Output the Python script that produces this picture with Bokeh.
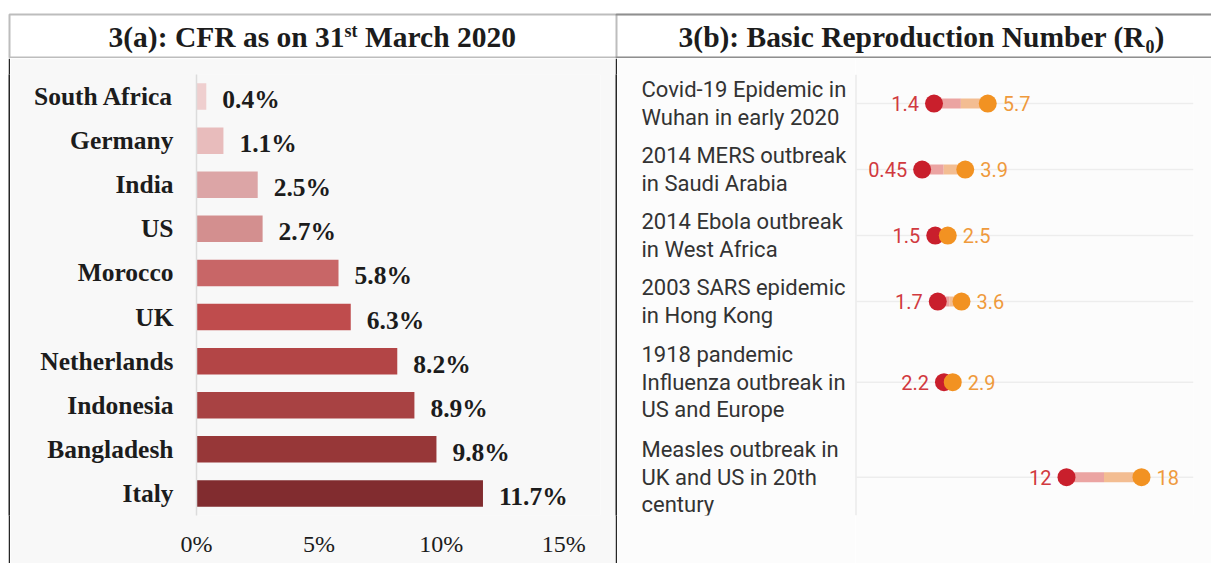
from bokeh.plotting import figure
from bokeh.models import Range1d, FactorRange, FixedTicker, PrintfTickFormatter, BoxAnnotation, Label, Span
from bokeh.layouts import column, row
from bokeh.embed import file_html
from bokeh.resources import INLINE
from bokeh.core.properties import value

# ---------------- data ----------------
countries = ["South Africa", "Germany", "India", "US", "Morocco", "UK",
             "Netherlands", "Indonesia", "Bangladesh", "Italy"]
cfr = [0.4, 1.1, 2.5, 2.7, 5.8, 6.3, 8.2, 8.9, 9.8, 11.7]
bar_colors = ["#efcfcf", "#e8bcbc", "#dca5a6", "#d38f8f", "#c86667",
              "#bf4c4d", "#b34546", "#a84243", "#973738", "#812c2f"]
cfr_ticks = [0, 5, 10, 15]

outbreaks = ["Covid-19 Epidemic in\nWuhan in early 2020",
             "2014 MERS outbreak\nin Saudi Arabia",
             "2014 Ebola outbreak\nin West Africa",
             "2003 SARS epidemic\nin Hong Kong",
             "1918 pandemic\nInfluenza outbreak in\nUS and Europe",
             "Measles outbreak in\nUK and US in 20th\ncentury"]
r0_low = [1.4, 0.45, 1.5, 1.7, 2.2, 12]
r0_high = [5.7, 3.9, 2.5, 3.6, 2.9, 18]

title_a = ["3(a): CFR as on 31", "st", " March 2020"]
title_b = ["3(b): Basic Reproduction Number (R", "0", ")"]

# ---------------- styling ----------------
SERIF = "Liberation Serif"
SANS = "Roboto"
INK = "#1c1c1c"
RULE = "#262626"
W, HH, H = 1211, 58, 505

# Times/Liberation Serif Bold advance widths (1/1000 em) for the header text
BOLD = {"0": 500, "1": 500, "2": 500, "3": 500, "(": 333, ")": 333, ":": 333, " ": 250,
        "a": 500, "b": 556, "c": 444, "d": 556, "e": 444, "h": 556, "i": 278, "m": 833,
        "n": 556, "o": 500, "p": 556, "r": 444, "s": 389, "t": 333, "u": 556,
        "B": 667, "C": 722, "F": 611, "M": 944, "N": 722, "R": 722}


def tw(s, size):
    return sum(BOLD.get(c, 500) for c in s) / 1000.0 * size


def bare(**kw):
    p = figure(toolbar_location=None, output_backend="svg", x_axis_location=None,
               y_axis_location=None, min_border=0, outline_line_color=None, **kw)
    p.grid.visible = False
    return p


# ---------------- header ----------------
hdr = bare(width=W, height=HH, x_range=Range1d(0, W), y_range=Range1d(HH, 0),
           background_fill_color="white", border_fill_color="white")
hdr.add_layout(BoxAnnotation(left=9, right=W + 100, top=14, bottom=57, fill_color=None,
                             line_color=RULE, line_width=2))
hdr.add_layout(BoxAnnotation(left=616, right=W + 100, top=14, bottom=57, fill_color=None,
                             line_color=RULE, line_width=2))

F, f = 29.5, 18


def header(parts, center, ys):
    sizes = [F, f, F]
    widths = [tw(t, s) for t, s in zip(parts, sizes)]
    x = center - sum(widths) / 2
    for t, s, w, yy in zip(parts, sizes, widths, ys):
        lead = len(t) - len(t.lstrip(" "))
        hdr.add_layout(Label(x=x + tw(" " * lead, s), y=yy, text=t.strip(" "),
                             text_font=SERIF, text_font_style="bold",
                             text_font_size=f"{s}px", text_color=INK,
                             text_align="left", text_baseline="middle"))
        x += w


header(title_a, 312, [36, 30, 36])
header(title_b, 921, [36, 46, 36])


def strip(width, color):
    return bare(width=width, height=H, x_range=Range1d(0, 1), y_range=Range1d(0, 1),
                background_fill_color=color, border_fill_color=color)


# ---------------- 3(a) bar chart ----------------
left = figure(width=605, height=H, toolbar_location=None, output_backend="svg",
              y_range=FactorRange(*reversed(countries)), x_range=Range1d(0, 16.5),
              min_border_left=186, min_border_right=15, min_border_top=16,
              min_border_bottom=48, background_fill_color="#f8f8f8",
              border_fill_color="#f8f8f8", outline_line_color=None)
left.grid.visible = False
left.hbar(y=countries, left=0, right=cfr, height=0.6, fill_color=bar_colors,
          line_color=None)
left.text(x=cfr, y=countries, text=[f"{v}%" for v in cfr], x_offset=16, y_offset=3,
          text_align="left", text_baseline="middle", text_font=value(SERIF),
          text_font_style="bold", text_font_size="25.5px", text_color=INK)
xa = left.xaxis[0]
xa.ticker = FixedTicker(ticks=cfr_ticks)
xa.formatter = PrintfTickFormatter(format="%d%%")
xa.axis_line_color = None
xa.major_tick_out = 0
xa.major_tick_in = 0
xa.minor_tick_out = 0
xa.minor_tick_in = 0
xa.major_label_standoff = 15
xa.major_label_text_font = SERIF
xa.major_label_text_font_size = "24px"
xa.major_label_text_color = INK
ya = left.yaxis[0]
ya.axis_line_color = "#dcdcdc"
ya.axis_line_width = 1.5
ya.major_tick_out = 0
ya.major_tick_in = 0
ya.major_label_standoff = 23
ya.major_label_text_font = SERIF
ya.major_label_text_font_style = "bold"
ya.major_label_text_font_size = "25.5px"
ya.major_label_text_color = INK

# ---------------- 3(b) dumbbell chart ----------------
n_lines = [t.count("\n") + 1 for t in outbreaks]
ypos = []
acc = 0.0
for n in n_lines:
    h = n + 0.5 + (0.1 if n > 2 else 0.0)
    ypos.append(acc + h / 2)
    acc += h
yr = Range1d(acc - 0.35, 0.15)

labfig = bare(width=238, height=H, x_range=Range1d(0, 1), y_range=yr,
              background_fill_color="#fcfcfc", border_fill_color="#fcfcfc")
labfig.min_border_top = 14
labfig.min_border_bottom = 38
labfig.text(x=[0] * len(outbreaks), y=ypos, text=outbreaks, x_offset=24,
            text_align="left", text_baseline="middle", text_font=value(SANS),
            text_font_size="22px", text_line_height=1.1, text_color="#333333")

xr = Range1d(-4.88, 22.16)
chart = figure(width=356, height=H, toolbar_location=None, output_backend="svg",
               x_range=xr, y_range=yr, x_axis_location=None, y_axis_location=None,
               min_border_left=0, min_border_right=18, min_border_top=14,
               min_border_bottom=38, background_fill_color="#fcfcfc",
               border_fill_color="#fcfcfc", outline_line_color=None)
chart.grid.visible = False
chart.add_layout(Span(location=xr.start, dimension="height", line_color="#e2e2e2",
                      line_width=2, level="underlay"))
for yv in ypos:
    chart.add_layout(Span(location=yv, dimension="width", line_color="#ededed",
                          line_width=1.5, level="underlay"))

mid = [(a + b) / 2 for a, b in zip(r0_low, r0_high)]
chart.segment(x0=r0_low, x1=mid, y0=ypos, y1=ypos, line_width=10,
              line_color="#eba4a2")
chart.segment(x0=mid, x1=r0_high, y0=ypos, y1=ypos, line_width=10,
              line_color="#f3bd92")
chart.scatter(x=r0_low, y=ypos, size=18, fill_color="#c91f2c", line_color=None)
chart.scatter(x=r0_high, y=ypos, size=18, fill_color="#f29222", line_color=None)
chart.text(x=r0_low, y=ypos, text=[f"{v:g}" for v in r0_low], x_offset=-15,
           text_align="right", text_baseline="middle", text_font=value(SANS),
           text_font_size="20px", text_color="#d13a3f")
chart.text(x=r0_high, y=ypos, text=[f"{v:g}" for v in r0_high], x_offset=15,
           text_align="left", text_baseline="middle", text_font=value(SANS),
           text_font_size="20px", text_color="#ef9a3c")

layout = column(hdr, row(strip(8, "white"), strip(2, RULE), left, strip(2, RULE),
                         labfig, chart))

open("out.html", "w").write(file_html(layout, INLINE))
